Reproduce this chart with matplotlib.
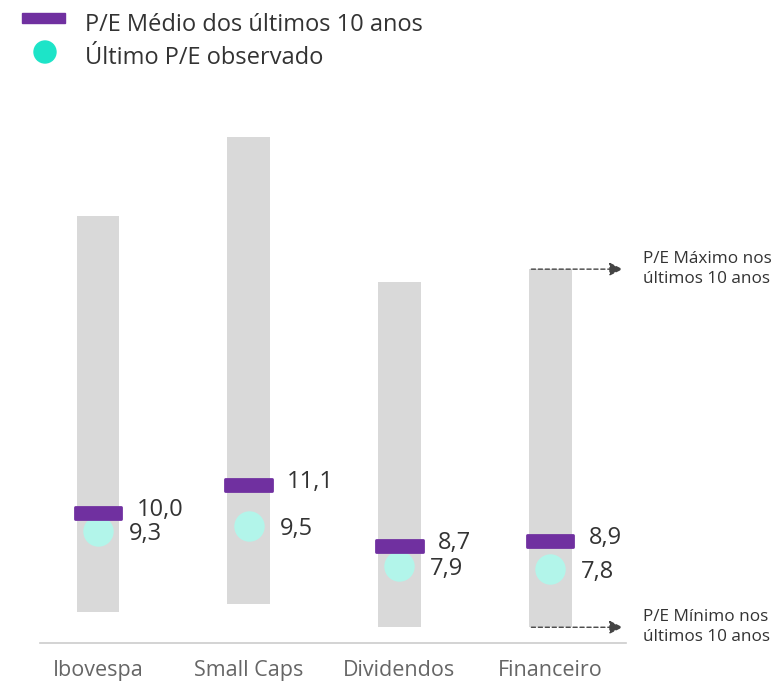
import numpy as np
import matplotlib.pyplot as plt
from matplotlib.patches import Rectangle, Ellipse

plt.rcParams['font.family'] = ['Open Sans', 'DejaVu Sans']

# ------------------------------------------------------------------
# Data (P/E ranges over the last 10 years)
# ------------------------------------------------------------------
categories = ["Ibovespa", "Small Caps", "Dividendos", "Financeiro"]
pe_min = [6.1, 6.4, 5.5, 5.5]
pe_max = [21.7, 24.8, 19.1, 19.6]
pe_avg = [10.0, 11.1, 8.7, 8.9]
pe_last = [9.3, 9.5, 7.9, 7.8]
avg_labels = ["10,0", "11,1", "8,7", "8,9"]
last_labels = ["9,3", "9,5", "7,9", "7,8"]

GRAY = "#d9d9d9"
PURPLE = "#7030a0"
MINT = "#b2f5ea"
MINT_LEGEND = "#1de4c8"
TEXT = "#333333"

W, H = 779, 683
fig = plt.figure(figsize=(W / 100, H / 100), dpi=100)
# axes spans baseline (y=643px) to y=100px, x 40..626 px
ax = fig.add_axes([40 / W, 1 - 643 / H, (626 - 40) / W, (643 - 100) / H])

x = np.arange(len(categories))
heights = np.array(pe_max) - np.array(pe_min)
ax.bar(x, heights, bottom=pe_min, width=0.285, color=GRAY, zorder=1)

# average marker
mh = 0.5
ax.bar(x, mh, bottom=np.array(pe_avg) - mh / 2, width=0.31, color=PURPLE,
       edgecolor=PURPLE, linewidth=2, joinstyle="round", zorder=3)

# last observed
ax.scatter(x, pe_last, s=480, color=MINT, zorder=2, linewidths=0)

for i in range(len(categories)):
    ax.text(x[i] + 0.255, pe_avg[i] + 0.12, avg_labels[i], fontsize=17, color=TEXT,
            va="center", ha="left", zorder=5)
    ax.text(x[i] + 0.205, pe_last[i] - 0.12, last_labels[i], fontsize=17, color=TEXT,
            va="center", ha="left", zorder=5)

ax.set_xlim(-0.385, 3.504)
ax.set_ylim(4.88, 26.26)
ax.set_xticks(x)
ax.set_xticklabels(categories, fontsize=15.5, color="#666666")
ax.tick_params(axis="x", length=0, pad=12)
ax.set_yticks([])
for s in ["top", "right", "left"]:
    ax.spines[s].set_visible(False)
ax.spines["bottom"].set_color("#cccccc")
ax.spines["bottom"].set_linewidth(1.2)

# max / min annotations on the last bar
left_edge = x[-1] - 0.1425
for yv, txt in [(pe_max[-1], "P/E Máximo nos\núltimos 10 anos"),
                (pe_min[-1], "P/E Mínimo nos\núltimos 10 anos")]:
    ax.annotate("", xy=(3.50, yv), xytext=(left_edge, yv),
                arrowprops=dict(arrowstyle="-|>", linestyle=(0, (3, 2)),
                                color="#444444", lw=1, mutation_scale=20),
                annotation_clip=False)
    ax.text(3.617, yv, txt, fontsize=12.3, color=TEXT, va="center", ha="left",
            linespacing=1.3, clip_on=False)

# legend
fig.add_artist(Rectangle((22 / W, 1 - 23 / H), 43 / W, 10 / H,
                         transform=fig.transFigure, color=PURPLE))
fig.add_artist(Ellipse((45 / W, 1 - 52 / H), 22 / W, 22 / H,
                       transform=fig.transFigure, color=MINT_LEGEND))
fig.text(85 / W, 1 - 25 / H, "P/E Médio dos últimos 10 anos", fontsize=17,
         color=TEXT, va="center", ha="left")
fig.text(85 / W, 1 - 58 / H, "Último P/E observado", fontsize=17,
         color=TEXT, va="center", ha="left")

fig.savefig("out.png", dpi=100)
